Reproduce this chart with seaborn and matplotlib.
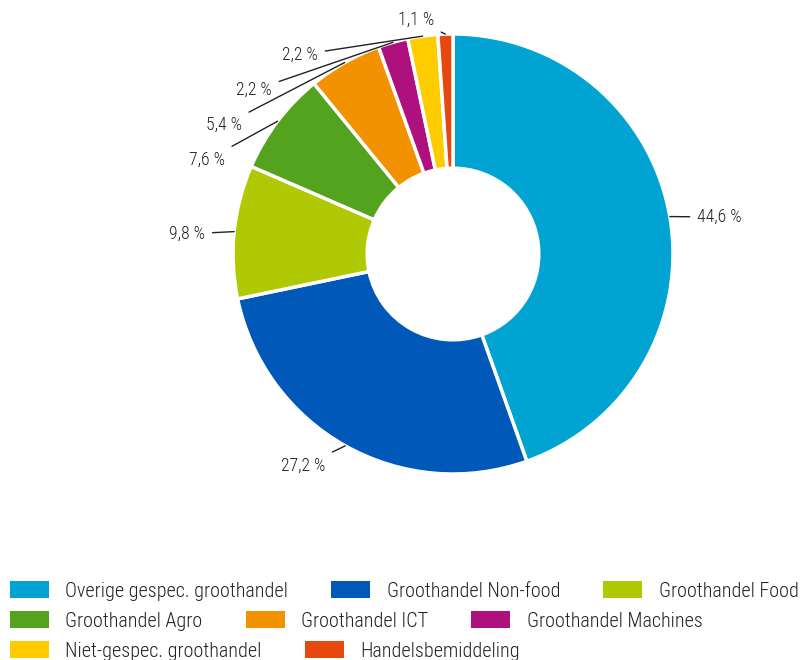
import numpy as np
import matplotlib
matplotlib.use("Agg")
import matplotlib.pyplot as plt
from matplotlib.patches import Patch
import seaborn as sns

# Share of turnover per wholesale branch (percent)
categories = [
    "Overige gespec. groothandel",
    "Groothandel Non-food",
    "Groothandel Food",
    "Groothandel Agro",
    "Groothandel ICT",
    "Groothandel Machines",
    "Niet-gespec. groothandel",
    "Handelsbemiddeling",
]
values = [44.6, 27.2, 9.8, 7.6, 5.4, 2.2, 2.2, 1.1]
value_labels = ["44,6 %", "27,2 %", "9,8 %", "7,6 %", "5,4 %", "2,2 %", "2,2 %", "1,1 %"]
colors = ["#00A3D1", "#0058B8", "#AFCA05", "#54A31F", "#F39200", "#AE107E", "#FFCC00", "#E6480F"]

# label text anchors (right/left edge of text, in units of the outer radius)
label_pos = [(1.11, 0.168), (-0.58, -0.964), (-1.127, 0.091), (-1.036, 0.427),
             (-0.959, 0.586), (-0.823, 0.745), (-0.614, 0.905), (-0.086, 1.064)]
label_ha = ["left", "right", "right", "right", "right", "right", "right", "right"]

sns.set_theme(style="white")
plt.rcParams["font.family"] = ["Roboto Condensed", "Liberation Sans Narrow",
                               "Liberation Sans", "DejaVu Sans"]
plt.rcParams["font.weight"] = "light"
text_color = "#222222"

W, H = 810, 660
fig = plt.figure(figsize=(W / 100, H / 100), dpi=100)
cx, cy, R = 453, 254, 220
ax = fig.add_axes([(cx - R) / W, (H - cy - R) / H, 2 * R / W, 2 * R / H])

wedges, _ = ax.pie(
    values, colors=sns.color_palette(colors), startangle=90, counterclock=False,
    radius=1.0, wedgeprops=dict(width=0.61, edgecolor="white", linewidth=2.5),
)
ax.set_xlim(-1, 1)
ax.set_ylim(-1, 1)
ax.set_aspect("equal")
ax.axis("off")

# leader lines from the middle of each slice's outer edge to its label
total = sum(values)
cum = np.cumsum([0] + values)
for i, v in enumerate(values):
    mid = (cum[i] + v / 2) / total * 2 * np.pi
    x, y = np.sin(mid), np.cos(mid)
    ax.annotate(
        value_labels[i], xy=(x, y), xytext=label_pos[i],
        ha=label_ha[i], va="center", fontsize=12.8, color=text_color,
        arrowprops=dict(arrowstyle="-", color=text_color, lw=1.0,
                        shrinkA=3, shrinkB=0),
        annotation_clip=False,
    )

# legend laid out as three flowing rows
rows = [[0, 1, 2], [3, 4, 5], [6, 7]]
row_y = [591, 621, 651]
for idxs, ry in zip(rows, row_y):
    handles = [Patch(facecolor=colors[i], edgecolor="none") for i in idxs]
    labels = [categories[i] for i in idxs]
    fig.legend(
        handles, labels, loc="center left", bbox_to_anchor=(10 / W, 1 - ry / H),
        ncol=len(idxs), frameon=False, fontsize=14.5, labelcolor=text_color,
        handlelength=1.94, handleheight=0.85, handletextpad=0.8,
        columnspacing=2.15, borderpad=0, borderaxespad=0,
    )

fig.savefig("out.png", dpi=100, facecolor="white")
